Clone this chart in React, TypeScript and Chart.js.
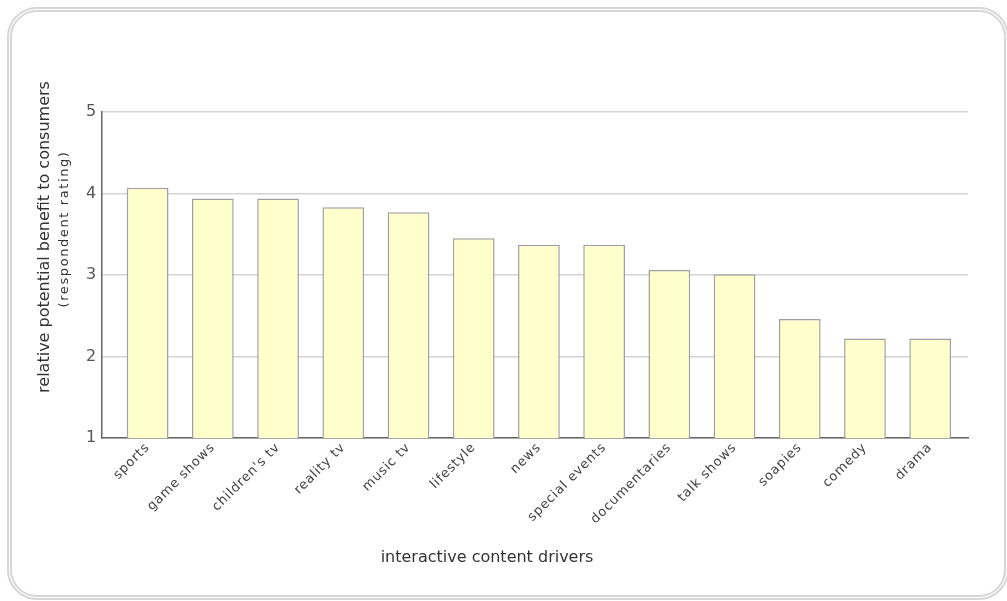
import React, { useEffect, useRef } from "react";
import { Chart, registerables } from "chart.js";

Chart.register(...registerables);

// Content categories along the x axis
const CATEGORIES: string[] = [
  "sports",
  "game shows",
  "children's tv",
  "reality tv",
  "music tv",
  "lifestyle",
  "news",
  "special events",
  "documentaries",
  "talk shows",
  "soapies",
  "comedy",
  "drama",
];

// Average respondent rating per category
const RATINGS: number[] = [4.07, 3.94, 3.94, 3.83, 3.77, 3.45, 3.37, 3.37, 3.06, 3.01, 2.46, 2.22, 2.22];

// Y axis ticks
const Y_TICKS: number[] = [1, 2, 3, 4, 5];

const Y_TITLE = "relative potential benefit to consumers";
const Y_SUBTITLE = "(respondent rating)";
const X_TITLE = "interactive content drivers";

const FONT = "'DejaVu Sans', Verdana, sans-serif";

// Index range of the x axis (bars sit at integer positions)
const X_MIN = -0.7;
const X_MAX = 12.58;

const titlesPlugin = {
  id: "axisTitles",
  beforeDraw(chart: any) {
    chart.ctx.letterSpacing = "0.8px";
  },
  afterDraw(chart: any) {
    const ctx = chart.ctx as CanvasRenderingContext2D;
    const area = chart.chartArea;
    ctx.save();
    ctx.letterSpacing = "0px";
    ctx.fillStyle = "#333";
    ctx.textAlign = "center";
    ctx.textBaseline = "middle";

    // x axis title
    ctx.font = `16px ${FONT}`;
    ctx.fillText(X_TITLE, area.left + 385, area.bottom + 120);

    // y axis title, two lines
    const cy = (area.top + area.bottom) / 2;
    ctx.save();
    ctx.translate(area.left - 57, cy - 38);
    ctx.rotate(-Math.PI / 2);
    ctx.font = `16px ${FONT}`;
    ctx.fillText(Y_TITLE, 0, 0);
    ctx.restore();

    ctx.save();
    ctx.translate(area.left - 37, cy - 46);
    ctx.rotate(-Math.PI / 2);
    ctx.font = `13px ${FONT}`;
    ctx.letterSpacing = "1.6px";
    ctx.fillText(Y_SUBTITLE, 0, 0);
    ctx.restore();

    ctx.restore();
  },
};

export default function App() {
  const canvasRef = useRef<HTMLCanvasElement | null>(null);

  useEffect(() => {
    const canvas = canvasRef.current;
    if (!canvas) return;
    const chart = new Chart(canvas, {
      type: "bar",
      data: {
        datasets: [
          {
            data: RATINGS.map((v, i) => ({ x: i, y: v })),
            backgroundColor: "#ffffcc",
            borderColor: "#a0a0a0",
            borderWidth: 1.5,
            categoryPercentage: 1,
            barPercentage: 0.64,
          },
        ],
      },
      options: {
        animation: false,
        responsive: false,
        maintainAspectRatio: false,
        layout: { padding: { top: 112, right: 39, left: 0, bottom: 0 } },
        plugins: {
          legend: { display: false },
          tooltip: { enabled: false },
          title: { display: false },
        },
        scales: {
          x: {
            type: "linear",
            offset: false,
            min: X_MIN,
            max: X_MAX,
            afterFit: (s: any) => {
              s.height = 163;
            },
            afterBuildTicks: (s: any) => {
              s.ticks = CATEGORIES.map((_, i) => ({ value: i }));
            },
            grid: { display: false, drawTicks: false, offset: false },
            border: { display: true, color: "#666", width: 1.5 },
            ticks: {
              autoSkip: false,
              minRotation: 45,
              maxRotation: 45,
              padding: 2,
              color: "#444",
              font: { family: FONT, size: 13 },
              callback: (v: any) => CATEGORIES[Number(v)] ?? "",
            },
          },
          y: {
            min: 1,
            max: 5,
            afterFit: (s: any) => {
              s.width = 102;
            },
            afterBuildTicks: (s: any) => {
              s.ticks = Y_TICKS.map((v) => ({ value: v }));
            },
            grid: { color: "#d4d4d4", lineWidth: 1.5, drawTicks: false },
            border: { display: true, color: "#666", width: 1.5 },
            ticks: {
              padding: 5,
              color: "#555",
              font: { family: FONT, size: 16 },
            },
          },
        },
      },
      plugins: [titlesPlugin],
    });
    return () => chart.destroy();
  }, []);

  return (
    <div
      style={{
        position: "fixed",
        left: 0,
        top: 0,
        width: 1007,
        height: 601,
        overflow: "hidden",
        background: "#fff",
      }}
    >
      <div
        style={{
          position: "absolute",
          left: 7,
          top: 7,
          width: 1002,
          height: 593,
          boxSizing: "border-box",
          border: "5px double #d6d6d6",
          borderRadius: 30,
        }}
      />
      <canvas
        ref={canvasRef}
        width={1007}
        height={601}
        style={{ position: "absolute", left: 0, top: 0, width: 1007, height: 601 }}
      />
    </div>
  );
}
